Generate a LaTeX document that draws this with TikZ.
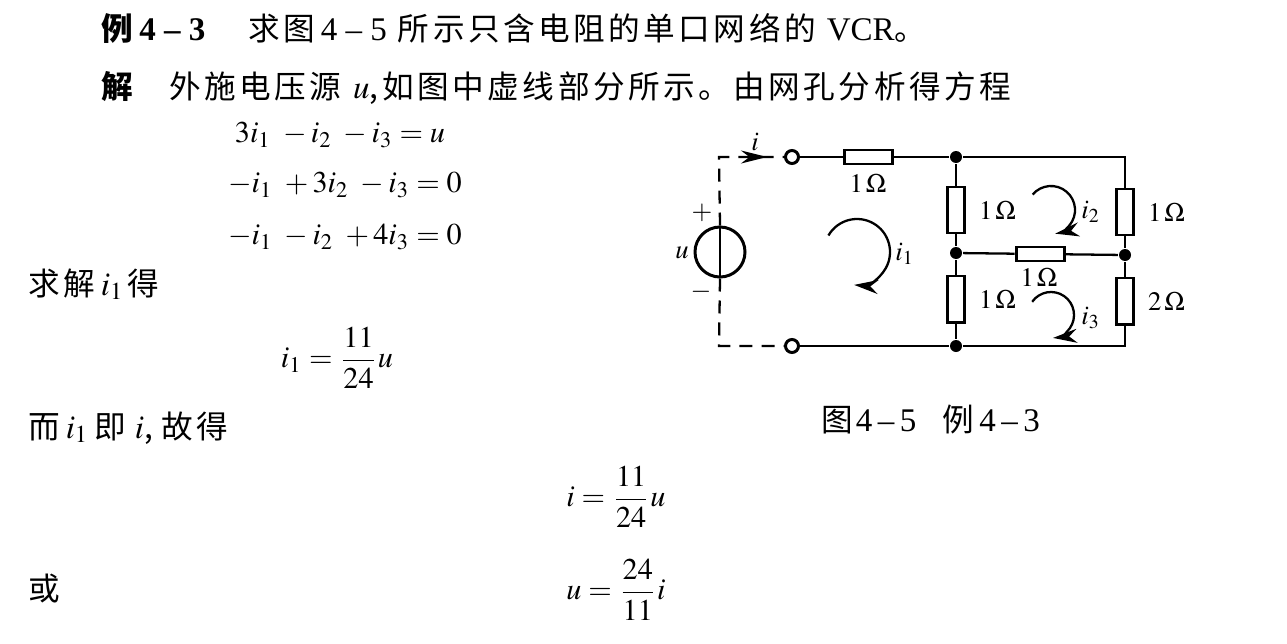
\documentclass[tikz,border=0pt]{standalone}
\usepackage{amsmath}
\usepackage{mathptmx}
\usepackage{fontspec}
\setmainfont{Liberation Serif}
\newfontfamily\cjk[LetterSpace=11]{Noto Sans CJK SC}
\newcommand{\lat}[1]{{\fontsize{9.4}{10}\selectfont\rmfamily #1}}
\usetikzlibrary{positioning,arrows.meta}

\begin{document}
\begin{tikzpicture}[
        x=0.1mm, y=0.1mm, line width=0.65pt,
        body/.style = {anchor=base west, inner sep=0pt, font=\fontsize{9}{10}\selectfont\cjk},
        head/.style = {body, font=\fontsize{9}{10}\selectfont\cjk\bfseries},
        formula/.style = {anchor=center, inner sep=0pt, font=\fontsize{8.6}{10}\selectfont},
        value/.style = {inner sep=0pt, font=\fontsize{7.6}{9}\selectfont},
        resv/.style = {rectangle, draw, line width=0.85pt, fill=white, minimum width=1.7mm, minimum height=4.6mm, inner sep=0pt},
        resh/.style = {rectangle, draw, line width=0.85pt, fill=white, minimum width=4.8mm, minimum height=1.4mm, inner sep=0pt},
        junction/.style = {circle, fill=black, minimum size=1.2mm, inner sep=0pt},
        terminal/.style = {circle, draw, line width=0.85pt, fill=white, minimum size=1.3mm, inner sep=0pt},
        source/.style = {circle, draw, line width=0.85pt, minimum size=5mm, inner sep=0pt},
        probe/.style = {dashed, dash pattern=on 1.3mm off 0.9mm},
        mesh/.style = {-{Stealth[length=2.4mm,width=1.4mm]}, line width=0.65pt}
    ]
    \useasboundingbox (0,0) rectangle (1287,-643);

    % text on the left
    \node[head] (tnum) at (100,-40) {例\hspace{0.3mm}\lat{\textbf{4\ --\ 3}}};
    \node[body] (ttext) at (247,-40) {求图\hspace{0.6mm}\lat{4\ --\ 5}\hspace{1.1mm}所示只含电阻的单口网络的\hspace{1.1mm}\lat{VCR}。};
    \node[head] (sol) at (100,-98) {解};
    \node[body] (soltext) at (168,-98) {外施电压源\hspace{1.2mm}\lat{$u$},\hspace{0.4mm}如图中虚线部分所示。由网孔分析得方程};
    \node[formula] (eqa) at (340,-135) {$3i_{1}\ -i_{2}\ -i_{3}=u$};
    \node[formula] (eqb) at (345,-185) {$-i_{1}\ +3i_{2}\ -i_{3}=0$};
    \node[formula] (eqc) at (345,-237) {$-i_{1}\ -i_{2}\ +4i_{3}=0$};
    \node[body] (solve) at (27,-295) {求解\hspace{0.6mm}\lat{$i_{1}$}\hspace{0.3mm}得};
    \node[formula] (resa) at (337,-358) {$i_{1}=\dfrac{11}{24}u$};
    \node[body] (since) at (27,-438) {而\hspace{0.6mm}\lat{$i_{1}$}\,即\hspace{0.9mm}\lat{$i$},\hspace{0.9mm}故得};
    \node[formula] (resb) at (616,-497) {$i=\dfrac{11}{24}u$};
    \node[body] (orr) at (27,-600) {或};
    \node[formula] (resc) at (616,-590) {$u=\dfrac{24}{11}i$};

    % circuit
    \coordinate (tl) at (719,-157);
    \coordinate (bl) at (719,-346);
    \coordinate (br) at (1125,-346);
    \coordinate (tr) at (1125,-157);
    \coordinate (iend) at (767,-157);
    \coordinate (ibeg) at (741,-157);
    \node[source] (src) at (720,-252) {};
    \node[terminal] (ta) at (792,-157) {};
    \node[terminal] (tb) at (792,-346) {};
    \node[junction] (na) at (956,-157) {};
    \node[junction] (nb) at (956,-253) {};
    \node[junction] (nc) at (956,-346) {};
    \node[junction] (nd) at (1125,-255) {};
    \node[resh] (ra) at (868,-157) {};
    \node[resv] (rb) at (956,-210) {};
    \node[resv] (rc) at (1125,-212) {};
    \node[resh] (rd) at (1040,-254) {};
    \node[resv] (re) at (956,-299) {};
    \node[resv] (rf) at (1125,-301) {};

    \draw (ta) -- (ra) -- (na) -- (tr) -- (rc) -- (nd) -- (rf) -- (br) -- (nc) -- (tb);
    \draw (na) -- (rb) -- (nb) -- (re) -- (nc);
    \draw (nb) -- (rd) -- (nd);
    \draw (src.north) -- (src.south);
    \draw[probe] (src.north) -- (tl) -- (ta);
    \draw[probe] (src.south) -- (bl) -- (tb);
    \draw[-{Stealth[length=2.6mm,width=1.3mm]}] (ibeg) -- (iend);

    % mesh currents
    \coordinate (ma) at (857,-252);
    \coordinate (mb) at (1051,-210);
    \coordinate (mc) at (1051,-315);
    \draw[mesh] ([shift={(150:3.3mm)}]ma) arc[start angle=150, end angle=-95, radius=3.3mm];
    \draw[mesh] ([shift={(140:2.4mm)}]mb) arc[start angle=140, end angle=-80, radius=2.4mm];
    \draw[mesh] ([shift={(145:2.3mm)}]mc) arc[start angle=145, end angle=-85, radius=2.3mm];

    % labels
    \node[value] (la) at (868,-183) {$1\,\Omega$};
    \node[value,right=1.2mm of rb] (lb) {$1\,\Omega$};
    \node[value,right=1.2mm of rc] (lc) {$1\,\Omega$};
    \node[value] (ld) at (1039,-277) {$1\,\Omega$};
    \node[value,right=1.2mm of re] (le) {$1\,\Omega$};
    \node[value,right=1.2mm of rf] (lf) {$2\,\Omega$};
    \node[value] (li) at (755,-142) {$i$};
    \node[value] (lu) at (682,-253) {$u$};
    \node[value] (lp) at (702,-213) {$+$};
    \node[value] (lm) at (701,-292) {$-$};
    \node[value] (lia) at (905,-254) {$i_{1}$};
    \node[value] (lib) at (1091,-212) {$i_{2}$};
    \node[value] (lic) at (1091,-318) {$i_{3}$};
    \node[body] (cap) at (820,-431) {图\hspace{0.3mm}\lat{4\,--\,5}\hspace{2.6mm}例\,\lat{4\,--\,3}};
\end{tikzpicture}
\end{document}
